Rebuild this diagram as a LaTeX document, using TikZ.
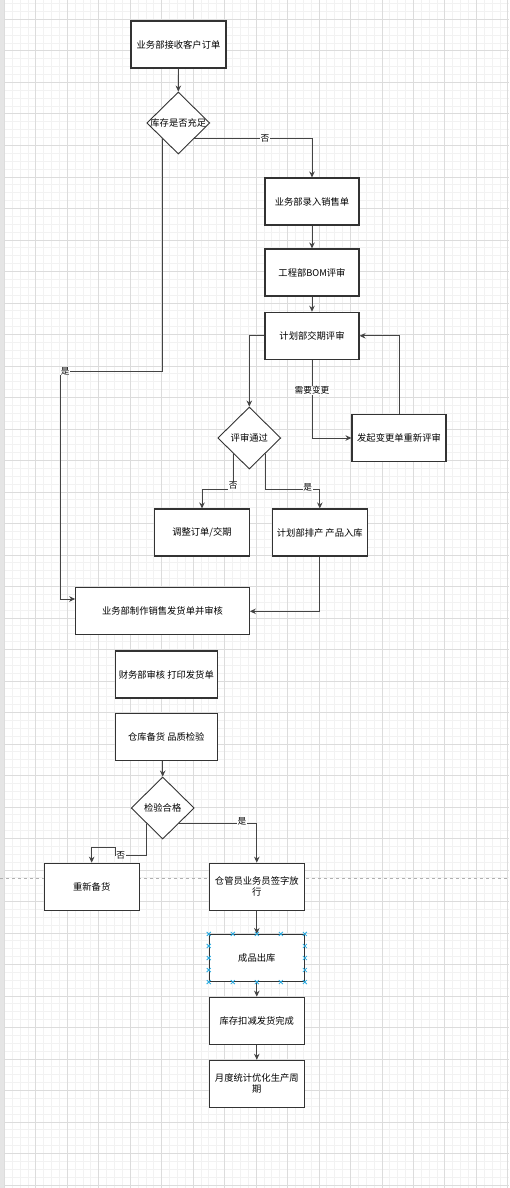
\documentclass[tikz,border=0pt]{standalone}
\usepackage{fontspec}
\setmainfont{Noto Sans CJK SC}
\usetikzlibrary{shapes.geometric,arrows.meta,calc}
\definecolor{boxline}{HTML}{333333}
\definecolor{edgecol}{HTML}{444444}
\definecolor{majorgrid}{HTML}{DCDCDC}
\definecolor{minorgrid}{HTML}{F2F2F2}
\definecolor{selcol}{HTML}{29ABE2}
\definecolor{pagebreak}{HTML}{B0B0B0}
\begin{document}
\begin{tikzpicture}[x=1pt,y=-1pt,
  box/.style={draw=boxline, line width=1.1pt, fill=white, minimum width=95pt, minimum height=47pt, inner sep=0pt, align=center, text=black, font=\fontsize{9.3}{11.2}\selectfont},
  dia/.style={draw=boxline, line width=0.9pt, fill=white, shape=diamond, minimum width=63pt, minimum height=62pt, inner sep=0pt},
  dtext/.style={inner sep=0pt, text=black, font=\fontsize{9.3}{11.2}\selectfont},
  conn/.style={draw=edgecol, line width=0.9pt, -{Stealth[length=6pt,width=5.5pt]}},
  lbl/.style={fill=white, inner sep=0.6pt, text=black, font=\fontsize{8.7}{10}\selectfont},
  selmark/.style={draw=selcol, line width=0.8pt}
]
\useasboundingbox (0,0) rectangle (509,1188);
% background grid
\begin{scope}
\clip (0,0) rectangle (509,1188);
\fill[white] (0,0) rectangle (509,1188);
\foreach \k in {-1,...,65} \draw[minorgrid, line width=0.6pt] ({4.2+\k*7.8675},0) -- ({4.2+\k*7.8675},1188);
\foreach \k in {0,...,153} \draw[minorgrid, line width=0.6pt] (0,{-12.2+\k*7.875}) -- (509,{-12.2+\k*7.875});
\foreach \k in {0,...,16} \draw[majorgrid, line width=0.6pt] ({4.2+\k*31.47},0) -- ({4.2+\k*31.47},1188);
\foreach \k in {0,...,38} \draw[majorgrid, line width=0.6pt] (0,{-12.2+\k*31.5}) -- (509,{-12.2+\k*31.5});
\fill[black!10] (0,0) rectangle (3.5,1188);
\draw[pagebreak, line width=0.8pt, dash pattern=on 3pt off 3pt] (0,878.3) -- (509,878.3);
\end{scope}

% nodes
\node[box] (b1) at (178.5,44.5) {业务部接收客户订单};
\node[dia] (d1) at (178.3,123) {};
\node[dtext] (t1) at (d1.center) {库存是否充足};
\node[box, minimum width=94pt] (b2) at (312,201.5) {业务部录入销售单};
\node[box, minimum width=94pt] (b3) at (312,272.5) {工程部BOM评审};
\node[box, minimum width=94pt] (b4) at (312,335.8) {计划部交期评审};
\node[box, minimum width=94pt] (b5) at (399,438) {发起变更单重新评审};
\node[dia] (d2) at (249.3,438) {};
\node[dtext] (t2) at (d2.center) {评审通过};
\node[box, minimum width=94.6pt] (b6) at (202,532.5) {调整订单/交期};
\node[box] (b7) at (319.8,532.5) {计划部排产 产品入库};
\node[box, minimum width=173.6pt] (b8) at (162.5,611.3) {业务部制作销售发货单并审核};
\node[box, minimum width=102pt] (b9) at (166.3,674.5) {财务部审核 打印发货单};
\node[box, minimum width=102pt] (b10) at (166.3,737.3) {仓库备货 品质检验};
\node[dia] (d3) at (162.7,808) {};
\node[dtext] (t3) at (d3.center) {检验合格};
\node[box] (b11) at (91.7,886.7) {重新备货};
\node[box] (b12) at (256.8,886.7) {仓管员业务员签字放\\行};
\node[box] (b13) at (256.8,958) {成品出库};
\node[box] (b14) at (256.8,1020.7) {库存扣减发货完成};
\node[box] (b15) at (256.8,1083.8) {月度统计优化生产周\\期};

% helper coordinates
\coordinate (d1se) at ($(d1.east)!0.5!(d1.south)$);
\coordinate (d1sw) at ($(d1.west)!0.5!(d1.south)$);
\coordinate (d2se) at ($(d2.east)!0.5!(d2.south)$);
\coordinate (d2sw) at ($(d2.west)!0.5!(d2.south)$);
\coordinate (d3se) at ($(d3.east)!0.5!(d3.south)$);
\coordinate (d3sw) at ($(d3.west)!0.5!(d3.south)$);
\coordinate (c1) at (60,371);
\coordinate (c2) at (60,599);
\coordinate (r2) at (0,489);
\coordinate (n1) at (115,855);
\coordinate (n2) at (115,847.3);

% connectors
\draw[conn] (b1.south) -- (d1.north);
\draw[conn] (d1se) -| node[lbl, pos=0.3]{否} (b2.north);
\draw[conn] (b2) -- (b3);
\draw[conn] (b3) -- (b4);
\draw[conn] (b4.west) -| (d2.north);
\draw[conn] (b4.south) |- node[lbl, pos=0.195]{需要变更} (b5.west);
\draw[conn] (b5.north) |- (b4.east);
\draw[conn] (d2sw) -- node[lbl, pos=0.9]{否} (d2sw |- r2) -| (b6.north);
\draw[conn] (d2se) -- (d2se |- r2) -| node[lbl, pos=0.39, yshift=2pt]{是} (b7.north);
\draw[conn] (b7.south) |- (b8.east);
\draw[conn] (d1sw) |- node[lbl, pos=0.975]{是} (c1) -- (c2) -- (b8.west |- c2);
\draw[conn] (b10.south -| d3.north) -- (d3.north);
\draw[conn] (d3se) -| node[lbl, pos=0.405, yshift=2pt]{是} (b12.north);
\draw[conn] (d3sw) |- node[lbl, pos=0.91]{否} (n1) -- (n2) -| (b11.north);
\draw[conn] (b12) -- (b13);
\draw[conn] (b13) -- (b14);
\draw[conn] (b14) -- (b15);

% selection handles on b13
\foreach \f in {0,0.25,0.5,0.75,1} {
  \draw[selmark] ($($(b13.north west)!\f!(b13.north east)$)+(-2,-2)$) -- ++(4,4) ++(0,-4) -- ++(-4,4);
  \draw[selmark] ($($(b13.south west)!\f!(b13.south east)$)+(-2,-2)$) -- ++(4,4) ++(0,-4) -- ++(-4,4);
}
\foreach \f in {0.25,0.5,0.75} {
  \draw[selmark] ($($(b13.north west)!\f!(b13.south west)$)+(-2,-2)$) -- ++(4,4) ++(0,-4) -- ++(-4,4);
  \draw[selmark] ($($(b13.north east)!\f!(b13.south east)$)+(-2,-2)$) -- ++(4,4) ++(0,-4) -- ++(-4,4);
}
\end{tikzpicture}
\end{document}
